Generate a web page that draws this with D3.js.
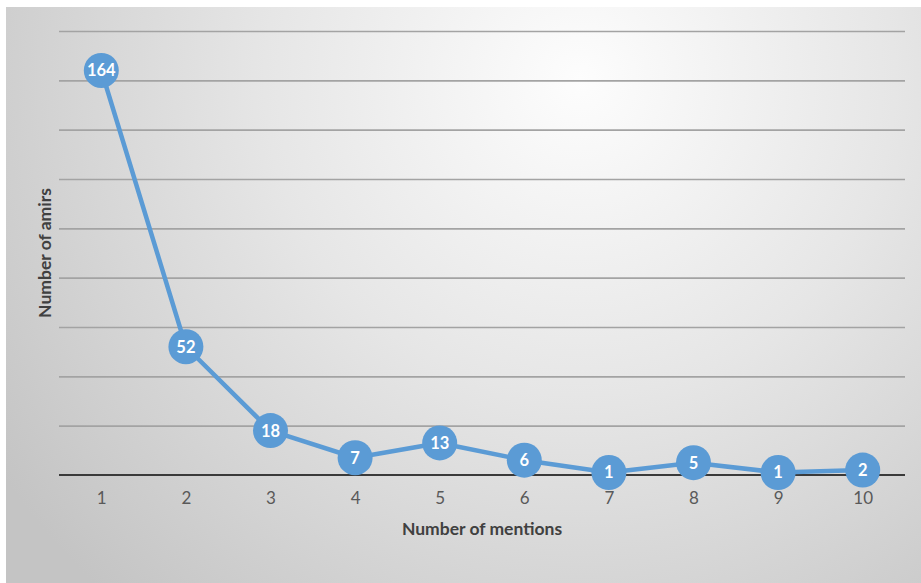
<!DOCTYPE html>
<html>
<head>
<meta charset="utf-8">
<script src="https://cdn.jsdelivr.net/npm/d3@7"></script>
<style>
  html, body { margin: 0; padding: 0; background: #fff; }
  svg { display: block; }
</style>
</head>
<body>
<svg id="chart" width="921" height="583"></svg>
<script>
// Number of amirs by how many times they are mentioned
const mentions = ["1", "2", "3", "4", "5", "6", "7", "8", "9", "10"];
const amirs = [164, 52, 18, 7, 13, 6, 1, 5, 1, 2];
const yTicks = [0, 20, 40, 60, 80, 100, 120, 140, 160, 180];

const W = 921, H = 583;
const margin = { left: 59, right: 16, top: 31, bottom: 108 };
const plotW = W - margin.left - margin.right;
const plotH = H - margin.top - margin.bottom;
const font = "Lato, 'Open Sans', sans-serif";

const svg = d3.select("#chart");
const defs = svg.append("defs");

// soft radial backdrop, brightest near the upper middle
const grad = defs.append("radialGradient")
  .attr("id", "bg").attr("gradientUnits", "userSpaceOnUse")
  .attr("cx", 580).attr("cy", 80).attr("r", 700);
grad.append("stop").attr("offset", "0%").attr("stop-color", "#fdfdfd");
grad.append("stop").attr("offset", "45%").attr("stop-color", "#e6e6e6");
grad.append("stop").attr("offset", "100%").attr("stop-color", "#c4c4c4");

svg.append("rect").attr("x", 6).attr("y", 7).attr("width", W - 6).attr("height", H - 7)
  .attr("fill", "url(#bg)");

const x = d3.scalePoint().domain(mentions)
  .range([margin.left, margin.left + plotW]).padding(0.5);
const y = d3.scaleLinear().domain([0, 180])
  .range([margin.top + plotH, margin.top]);

// horizontal gridlines
const grid = svg.append("g")
  .attr("transform", `translate(${margin.left},0)`)
  .call(d3.axisLeft(y).tickValues(yTicks.slice(1)).tickSize(-plotW).tickFormat(""));
grid.select(".domain").remove();
grid.selectAll(".tick line").attr("stroke", "#a3a3a3").attr("stroke-width", 1.6);

// category axis along the baseline
const xAxis = svg.append("g")
  .attr("transform", `translate(0,${y(0)})`)
  .call(d3.axisBottom(x).tickSize(0).tickPadding(17));
xAxis.select(".domain").remove();
xAxis.selectAll(".tick text")
  .attr("fill", "#595959").attr("font-family", font)
  .attr("font-size", 17);
svg.append("line")
  .attr("x1", margin.left).attr("x2", margin.left + plotW)
  .attr("y1", y(0)).attr("y2", y(0))
  .attr("stroke", "#3a3a3a").attr("stroke-width", 2.2);

// axis titles
svg.append("text")
  .attr("x", margin.left + plotW / 2).attr("y", 535)
  .attr("text-anchor", "middle")
  .attr("font-family", font).attr("font-weight", "bold")
  .attr("font-size", 17.5).attr("fill", "#404040")
  .text("Number of mentions");
svg.append("text")
  .attr("transform", `translate(51,${margin.top + plotH / 2}) rotate(-90)`)
  .attr("text-anchor", "middle")
  .attr("font-family", font).attr("font-weight", "bold")
  .attr("font-size", 17.5).attr("fill", "#404040")
  .text("Number of amirs");

const blue = "#5b9bd5";
const pts = mentions.map((m, i) => ({ m, v: amirs[i] }));

svg.append("path").datum(pts)
  .attr("fill", "none").attr("stroke", blue).attr("stroke-width", 4.5)
  .attr("stroke-linejoin", "round")
  .attr("d", d3.line().x(d => x(d.m)).y(d => y(d.v)));

const marks = svg.append("g").selectAll("g").data(pts).join("g")
  .attr("transform", d => `translate(${x(d.m)},${y(d.v)})`);
marks.append("circle").attr("r", 17.5).attr("fill", blue);
marks.append("text")
  .attr("text-anchor", "middle").attr("dy", "0.36em")
  .attr("font-family", font).attr("font-weight", "bold")
  .attr("font-size", 16.5).attr("fill", "#ffffff")
  .text(d => d.v);
</script>
</body>
</html>
